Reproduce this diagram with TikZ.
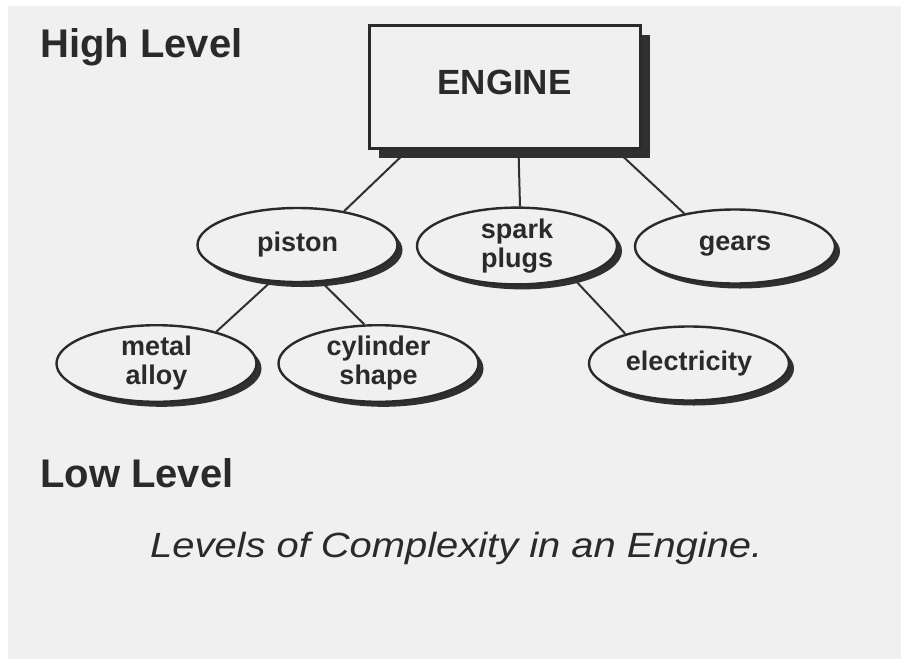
\documentclass[tikz,border=0pt]{standalone}
\usepackage{fontspec}
\setmainfont{Liberation Sans}
\usetikzlibrary{shadows,calc,shapes.geometric}
\definecolor{paper}{HTML}{F0F0F0}
\definecolor{ink}{HTML}{2A2A2A}
\definecolor{shade}{HTML}{303030}
\pgfdeclarelayer{bg}
\pgfdeclarelayer{wires}
\pgfsetlayers{bg,wires,main}
\tikzset{
  part/.style={ellipse, draw=ink, line width=2.4pt, fill=paper, text=ink,
    minimum width=200pt, minimum height=74pt, inner sep=0pt, align=center,
    font=\fontsize{27}{29}\selectfont\bfseries,
    drop shadow={shadow xshift=5pt, shadow yshift=-5pt, fill=shade, opacity=1}},
  topbox/.style={rectangle, draw=ink, line width=3pt, fill=paper, text=ink,
    minimum width=271pt, minimum height=123pt, inner sep=0pt, text depth=8pt,
    font=\fontsize{35}{35}\selectfont\bfseries,
    drop shadow={shadow xshift=10pt, shadow yshift=-10pt, fill=shade, opacity=1}},
  levellabel/.style={anchor=base west, inner sep=0pt, text=ink,
    font=\fontsize{40}{40}\selectfont\bfseries},
  wire/.style={draw=shade, line width=2pt},
}
\begin{document}
\begin{tikzpicture}[x=1pt,y=-1pt]
\useasboundingbox (0,0) rectangle (901,659);
\begin{pgfonlayer}{bg}
  \fill[white] (0,0) rectangle (901,659);
  \fill[paper] (8,6) rectangle (901,659);
\end{pgfonlayer}

\node[topbox] (engine) at (504.5,86.5) {ENGINE};

\node[part] (piston) at (297.5,245) {piston};
\node[part] (spark) at (517,246) {spark\\plugs};
\node[part] (gears) at (735,246.5) {gears};
\node[part] (metal) at (156.5,363.5) {metal\\alloy};
\node[part] (cylinder) at (378.5,363.5) {cylinder\\shape};
\node[part] (electricity) at (689,363.5) {electricity};

\begin{pgfonlayer}{wires}
  \draw[wire] ($(engine.south west)+(41,0)$) -- (piston.36);
  \draw[wire] ($(engine.south west)+(151,0)$) -- ($(spark.north)+(3,0)$);
  \draw[wire] ($(engine.south west)+(248,0)$) -- (gears.147);
  \draw[wire] (piston.234) -- (metal.28);
  \draw[wire] (piston.303) -- (cylinder.110);
  \draw[wire] (spark.330) -- (electricity.155);
\end{pgfonlayer}

\node[levellabel] (high) at (40,57) {High Level};
\node[levellabel] (low) at (40,487) {Low Level};
\node[anchor=base west, inner sep=0pt, text=ink] (caption) at (150,557)
  {\scalebox{1.14}[1]{\fontsize{35}{35}\selectfont\itshape Levels of Complexity in an Engine.}};
\end{tikzpicture}
\end{document}
